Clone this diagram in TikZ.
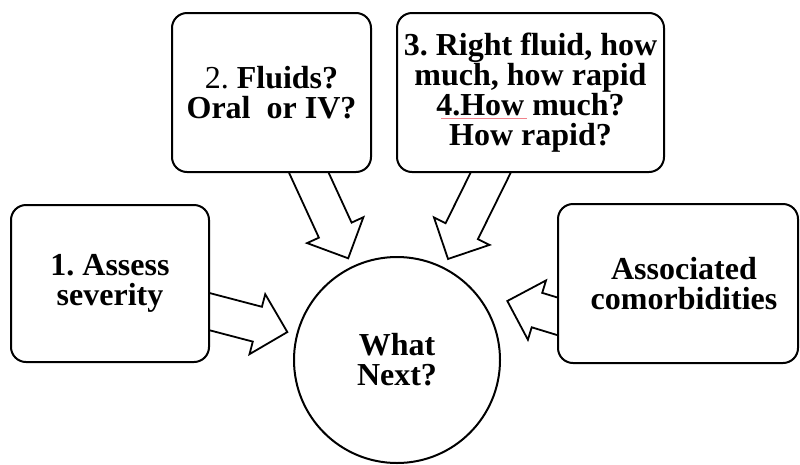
\documentclass[tikz,border=0pt]{standalone}
\usepackage{fontspec}
\setmainfont{Liberation Serif}
\frenchspacing
\begin{document}
\begin{tikzpicture}[x=1pt,y=1pt,
  box/.style={draw, line width=2pt, rounded corners=15pt, fill=white,
    align=center, inner sep=0pt,
    font=\fontsize{32}{30}\selectfont\bfseries},
  hub/.style={draw, circle, line width=2pt, fill=white, align=center,
    inner sep=0pt, minimum size=206pt,
    font=\fontsize{32}{30}\selectfont\bfseries},
  arrowline/.style={draw, line width=1.8pt, fill=white, line join=miter},
  pics/fatarrow/.style={code={
    \path[arrowline] (-12,18) -- ({#1-31},18) -- ({#1-31},31) -- (#1,0)
      -- ({#1-31},-31) -- ({#1-31},-18) -- (-12,-18) -- cycle;
  }}
]
\useasboundingbox (0,0) rectangle (800,-464);

% block arrows, drawn first so the boxes cover their tails
\coordinate (a1) at (209,-311.5);
\coordinate (a2) at (308.5,-172);
\coordinate (a3) at (491,-172);
\coordinate (a4) at (558,-316.5);
\pic[rotate=-14.7] at (a1) {fatarrow=81};
\pic[rotate=-65.3] at (a2) {fatarrow=95};
\pic[rotate=-116.3] at (a3) {fatarrow=97};
\pic[rotate=163] at (a4) {fatarrow=53};

% boxes
\node[box, minimum width=198pt, minimum height=157pt] (sev) at (110,-283.5)
  {1. Assess\\severity};
\node[box, minimum width=199pt, minimum height=159pt] (fluids) at (271.5,-92.5)
  {{\mdseries 2.} Fluids?\\Oral\ \ or IV?};
\node[box, minimum width=267pt, minimum height=159pt] (rate) at (530.5,-92.5)
  {3. Right fluid, how\\much, how rapid\\4.How much?\\How rapid?};
\node[box, minimum width=240pt, minimum height=159pt] (comorb) at (678,-283.5)
  {\hspace{12pt}Associated\\\hspace{12pt}comorbidities};

% centre
\node[hub] (next) at (397,-360) {What\\Next?};

% spell-check underline under "4.How"
\draw[color={rgb,255:red,240;green,130;blue,140}, line width=0.9pt]
  (441,-118.5) -- (527,-118.5);
\end{tikzpicture}
\end{document}
